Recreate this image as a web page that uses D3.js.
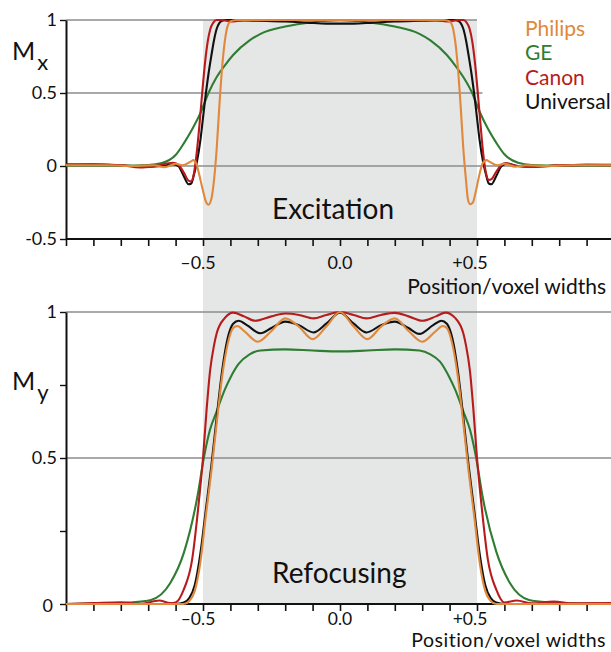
<!DOCTYPE html>
<html><head><meta charset="utf-8">
<script src="https://cdn.jsdelivr.net/npm/d3@7"></script>
<style>body{margin:0;background:#fff} svg{display:block;font-family:Lato,'Open Sans',sans-serif}</style>
</head><body><svg id="c" width="611" height="652"></svg>
<script>
// ---------- DATA ----------
const seriesNames = ["Philips", "GE", "Canon", "Universal"];
const seriesColors = ["#e0883b", "#2e7d32", "#b71c1c", "#111111"];

// Excitation (Mx) profiles: [position, value]
const exPhilips = [[-1,0.005],[-0.85,0.005],[-0.75,0],[-0.68,0.005],[-0.64,-0.008],[-0.6,0.015],[-0.575,0.005],[-0.545,0.03],[-0.535,0.04],[-0.525,0.02],[-0.515,-0.05],[-0.5,-0.17],[-0.49,-0.24],[-0.48,-0.265],[-0.47,-0.23],[-0.46,-0.1],[-0.45,0.12],[-0.44,0.42],[-0.43,0.68],[-0.42,0.86],[-0.41,0.96],[-0.4,0.99],[-0.38,1.0],[0,1.0],[0.38,1.0],[0.4,0.99],[0.41,0.96],[0.42,0.86],[0.43,0.68],[0.44,0.42],[0.45,0.12],[0.46,-0.1],[0.467,-0.23],[0.475,-0.262],[0.485,-0.25],[0.495,-0.18],[0.51,-0.05],[0.52,0.015],[0.535,0.04],[0.545,0.03],[0.575,0.005],[0.6,0.015],[0.64,-0.005],[0.68,0.005],[0.75,0],[0.85,0.005],[1,0.005]];
const exGE = [[-1,0.002],[-0.8,0.002],[-0.7,0.006],[-0.65,0.02],[-0.6,0.075],[-0.57,0.155],[-0.54,0.25],[-0.51,0.36],[-0.48,0.5],[-0.45,0.61],[-0.42,0.69],[-0.39,0.76],[-0.33,0.86],[-0.29,0.905],[-0.2,0.955],[-0.1,0.985],[0,0.998],[0.1,0.985],[0.2,0.955],[0.29,0.905],[0.33,0.86],[0.39,0.76],[0.42,0.69],[0.45,0.61],[0.48,0.51],[0.51,0.37],[0.54,0.255],[0.57,0.16],[0.6,0.08],[0.65,0.022],[0.7,0.006],[0.8,0.002],[1,0.002]];
const exCanon = [[-1,0.01],[-0.9,0.012],[-0.8,0.005],[-0.73,-0.01],[-0.68,-0.002],[-0.61,0.022],[-0.59,0.008],[-0.57,-0.045],[-0.553,-0.1],[-0.543,-0.105],[-0.533,-0.05],[-0.523,0.09],[-0.513,0.28],[-0.503,0.5],[-0.493,0.7],[-0.483,0.85],[-0.473,0.94],[-0.463,0.98],[-0.45,1.0],[-0.43,1.0],[-0.4,0.99],[-0.35,0.997],[-0.2,1.0],[0.2,1.0],[0.35,0.997],[0.4,0.99],[0.43,1.0],[0.45,1.0],[0.463,0.98],[0.473,0.94],[0.483,0.85],[0.493,0.7],[0.503,0.5],[0.513,0.28],[0.523,0.08],[0.533,-0.05],[0.543,-0.095],[0.553,-0.09],[0.57,-0.04],[0.59,0.01],[0.605,0.02],[0.64,0.002],[0.7,-0.006],[0.8,0.004],[0.9,0.008],[1,0.006]];
const exUniversal = [[-1,0.01],[-0.9,0.01],[-0.8,0.005],[-0.7,-0.005],[-0.65,0.0],[-0.61,0.012],[-0.59,0.0],[-0.57,-0.07],[-0.553,-0.125],[-0.543,-0.12],[-0.533,-0.06],[-0.522,0.03],[-0.51,0.17],[-0.5,0.33],[-0.49,0.49],[-0.48,0.63],[-0.47,0.75],[-0.46,0.86],[-0.45,0.94],[-0.44,0.98],[-0.43,0.995],[-0.42,1.0],[-0.4,1.0],[-0.3,0.995],[-0.2,0.99],[-0.12,0.982],[-0.05,0.975],[0,0.975],[0.05,0.975],[0.12,0.982],[0.2,0.99],[0.3,0.995],[0.4,1.0],[0.42,1.0],[0.43,0.995],[0.44,0.98],[0.45,0.94],[0.46,0.86],[0.47,0.75],[0.48,0.63],[0.49,0.49],[0.5,0.33],[0.51,0.17],[0.522,0.03],[0.533,-0.06],[0.543,-0.12],[0.553,-0.125],[0.57,-0.07],[0.59,0.0],[0.61,0.015],[0.65,0.0],[0.7,-0.005],[0.8,0.005],[0.9,0.008],[1,0.008]];

// Refocusing (My) profiles: [position, value]
const refPhilips = [[-1,0],[-0.57,0],[-0.55,0.01],[-0.53,0.045],[-0.51,0.14],[-0.49,0.3],[-0.47,0.45],[-0.45,0.62],[-0.43,0.78],[-0.41,0.89],[-0.39,0.945],[-0.375,0.952],[-0.35,0.935],[-0.3,0.898],[-0.25,0.935],[-0.2,0.978],[-0.15,0.95],[-0.1,0.907],[-0.05,0.95],[0,1.0],[0.05,0.95],[0.1,0.907],[0.15,0.95],[0.2,0.978],[0.25,0.935],[0.3,0.898],[0.35,0.935],[0.375,0.952],[0.39,0.945],[0.41,0.89],[0.43,0.78],[0.45,0.62],[0.47,0.45],[0.49,0.3],[0.51,0.14],[0.53,0.045],[0.55,0.01],[0.57,0],[1,0]];
const refGE = [[-1,0],[-0.85,0.002],[-0.77,0.005],[-0.69,0.014],[-0.62,0.071],[-0.57,0.175],[-0.52,0.37],[-0.497,0.5],[-0.475,0.595],[-0.45,0.66],[-0.42,0.735],[-0.4,0.775],[-0.37,0.822],[-0.33,0.855],[-0.29,0.868],[-0.2,0.872],[-0.1,0.868],[0,0.865],[0.1,0.868],[0.2,0.872],[0.29,0.868],[0.33,0.855],[0.365,0.83],[0.4,0.775],[0.42,0.735],[0.45,0.66],[0.475,0.595],[0.497,0.5],[0.52,0.37],[0.57,0.18],[0.62,0.072],[0.69,0.014],[0.77,0.005],[0.85,0.002],[1,0]];
const refCanon = [[-1,0],[-0.9,0.003],[-0.8,0.006],[-0.73,0],[-0.66,0.012],[-0.62,0.003],[-0.6,0.005],[-0.57,0.05],[-0.54,0.15],[-0.517,0.333],[-0.5,0.5],[-0.487,0.664],[-0.474,0.8],[-0.46,0.885],[-0.45,0.927],[-0.42,0.98],[-0.39,0.998],[-0.35,0.985],[-0.31,0.97],[-0.25,0.985],[-0.2,0.995],[-0.15,0.99],[-0.097,0.978],[-0.05,0.99],[0,1.0],[0.05,0.99],[0.097,0.978],[0.15,0.99],[0.2,0.997],[0.25,0.985],[0.3,0.97],[0.35,0.985],[0.385,0.998],[0.42,0.98],[0.45,0.927],[0.46,0.885],[0.474,0.8],[0.487,0.664],[0.5,0.5],[0.517,0.333],[0.54,0.15],[0.57,0.05],[0.6,0.005],[0.645,0.012],[0.7,0.002],[0.78,0.008],[0.85,0.002],[1,0.003]];
const refUniversal = [[-1,0],[-0.8,0],[-0.6,0],[-0.57,0.005],[-0.55,0.02],[-0.53,0.065],[-0.51,0.17],[-0.49,0.32],[-0.47,0.47],[-0.45,0.64],[-0.43,0.8],[-0.41,0.91],[-0.39,0.96],[-0.37,0.97],[-0.34,0.955],[-0.29,0.927],[-0.25,0.945],[-0.2,0.967],[-0.15,0.955],[-0.097,0.93],[-0.05,0.96],[0,0.998],[0.05,0.96],[0.097,0.93],[0.15,0.955],[0.2,0.967],[0.25,0.945],[0.29,0.925],[0.34,0.955],[0.37,0.97],[0.39,0.96],[0.41,0.91],[0.43,0.8],[0.45,0.64],[0.47,0.47],[0.49,0.32],[0.51,0.17],[0.53,0.065],[0.55,0.02],[0.57,0.005],[0.6,0],[1,0]];

const xTickValues = [-1,-0.9,-0.8,-0.7,-0.6,-0.5,-0.4,-0.3,-0.2,-0.1,0,0.1,0.2,0.3,0.4,0.5,0.6,0.7,0.8,0.9];
const xLabelValues = [-0.5, 0, 0.5];
const xLabelTexts = ["\u20130.5", "0.0", "+0.5"];
const exYTicks = [-0.5, 0, 0.5, 1];
const exYLabels = ["-0.5", "0", "0.5", "1"];
const refYTicks = [0, 0.25, 0.5, 0.75, 1];
const refYLabels = ["0", "", "0.5", "", "1"];
const passband = [-0.5, 0.5];

// ---------- DRAW ----------
const svg = d3.select("#c");
const x = d3.scaleLinear().domain([-1, 1]).range([66, 614]);
const yEx = d3.scaleLinear().domain([-0.5, 1]).range([239, 20]);
const yRef = d3.scaleLinear().domain([0, 1]).range([604, 312]);

svg.append("defs").append("clipPath").attr("id","clip")
  .append("rect").attr("x", 66).attr("y", 0).attr("width", 545).attr("height", 652);

// shaded passband spanning both panels
svg.append("rect").attr("x", x(passband[0])).attr("y", yEx(1))
  .attr("width", x(passband[1]) - x(passband[0])).attr("height", yRef(0) - yEx(1))
  .attr("fill", "#e5e6e6");

const grid = svg.append("g").attr("stroke", "#8c8c8c").attr("stroke-width", 1.4);
grid.append("line").attr("x1", x(-1)).attr("x2", x(0.5)).attr("y1", yEx(1)).attr("y2", yEx(1));
grid.append("line").attr("x1", x(-1)).attr("x2", x(0.52)).attr("y1", yEx(0.5)).attr("y2", yEx(0.5));
grid.append("line").attr("x1", x(-1)).attr("x2", 611).attr("y1", yEx(0)).attr("y2", yEx(0));
grid.append("line").attr("x1", x(-1)).attr("x2", 611).attr("y1", yRef(1)).attr("y2", yRef(1));
grid.append("line").attr("x1", x(-1)).attr("x2", 611).attr("y1", yRef(0.5)).attr("y2", yRef(0.5));

function drawAxes(y, yTicks, yLabels, baseY, labelY, labelSize, titleY, titleSize, titleSpacing, zeroDx) {
  const gx = svg.append("g").attr("transform", `translate(0,${baseY})`)
    .call(d3.axisBottom(x).tickValues(xTickValues).tickFormat("").tickSize(7).tickSizeOuter(0));
  gx.select(".domain").attr("stroke", "#111").attr("stroke-width", 2).attr("d", `M${x(-1)},0H611`);
  gx.selectAll(".tick line").attr("stroke", "#111").attr("stroke-width", 1.6);
  const gy = svg.append("g").attr("transform", `translate(${x(-1)},0)`)
    .call(d3.axisLeft(y).tickValues(yTicks).tickFormat("").tickSize(6).tickSizeOuter(0));
  gy.select(".domain").attr("stroke", "#111").attr("stroke-width", 2);
  gy.selectAll(".tick line").attr("stroke", "#111").attr("stroke-width", 1.4);
  yTicks.forEach((v, i) => {
    if (!yLabels[i]) return;
    const isZero = v === 0;
    svg.append("text").attr("x", 57 + (isZero ? zeroDx : 0)).attr("y", y(v) + 6 + (isZero && zeroDx ? 2 : 0))
      .attr("text-anchor", "end").attr("font-size", 18).attr("fill", "#111").text(yLabels[i]);
  });
  const offs = [-5, 0, -7];
  xLabelValues.forEach((v, i) => {
    svg.append("text").attr("x", x(v) + offs[i]).attr("y", labelY).attr("text-anchor", "middle")
      .attr("font-size", labelSize).attr("fill", "#111").text(xLabelTexts[i]);
  });
  svg.append("text").attr("x", 606).attr("y", titleY).attr("text-anchor", "end")
    .attr("font-size", titleSize).attr("letter-spacing", titleSpacing).attr("fill", "#111")
    .text("Position/voxel widths");
}
drawAxes(yEx, exYTicks, exYLabels, 239, 269, 18, 294, 21, 0, 0);
drawAxes(yRef, refYTicks, refYLabels, 604, 624.5, 17.5, 647.3, 19.5, 0.5, -4);

function drawCurves(y, arrs) {
  const line = d3.line().x(d => x(d[0])).y(d => y(d[1])).curve(d3.curveMonotoneX);
  const g = svg.append("g").attr("clip-path", "url(#clip)");
  const order = [1, 3, 2, 0];
  order.forEach(i => {
    g.append("path").attr("d", line(arrs[i])).attr("fill", "none")
      .attr("stroke", seriesColors[i]).attr("stroke-width", 2.1).attr("stroke-linejoin", "round");
  });
}
drawCurves(yEx, [exPhilips, exGE, exCanon, exUniversal]);
drawCurves(yRef, [refPhilips, refGE, refCanon, refUniversal]);

// y-axis titles
function yTitle(sub, yBase, subDy) {
  const t = svg.append("text").attr("x", 12).attr("y", yBase).attr("font-size", 25).attr("fill", "#111");
  t.append("tspan").text("M");
  t.append("tspan").attr("dx", 2).attr("dy", subDy).attr("font-size", 22).text(sub);
}
yTitle("x", 60, 10);
yTitle("y", 390, 10);

// panel titles
svg.append("text").attr("x", 272).attr("y", 219).attr("font-size", 28).attr("fill", "#111").text("Excitation");
svg.append("text").attr("x", 272).attr("y", 583).attr("font-size", 28).attr("fill", "#111").text("Refocusing");

// legend
seriesNames.forEach((n, i) => {
  svg.append("text").attr("x", 525).attr("y", 36 + i * 24.3).attr("font-size", 21)
    .attr("fill", seriesColors[i]).text(n);
});
</script></body></html>
